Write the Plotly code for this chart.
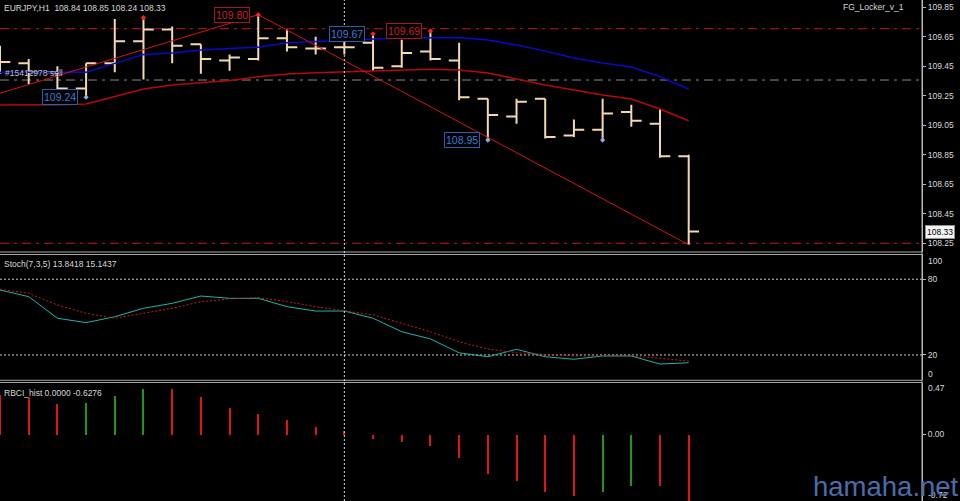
import plotly.graph_objects as go

# ---------------- data ----------------
bar_idx = list(range(25))
opens  = [109.55, 109.47, 109.41, 109.30, 109.47, 109.62, 109.70, 109.60, 109.49, 109.50,
          109.64, 109.57, 109.58, 109.61, 109.45, 109.55, 109.49, 109.23, 109.11, 109.23,
          108.98, 109.02, 109.14, 109.06, 108.84]
highs  = [109.59, 109.50, 109.45, 109.47, 109.77, 109.78, 109.72, 109.60, 109.53, 109.80,
          109.70, 109.65, 109.64, 109.67, 109.63, 109.69, 109.61, 109.23, 109.23, 109.23,
          109.09, 109.23, 109.19, 109.16, 108.85]
lows   = [109.40, 109.33, 109.29, 109.24, 109.41, 109.36, 109.47, 109.40, 109.42, 109.49,
          109.55, 109.53, 109.53, 109.42, 109.44, 109.49, 109.22, 108.95, 109.06, 108.96,
          108.97, 108.95, 109.04, 108.83, 108.24]
closes = [109.48, 109.41, 109.30, 109.47, 109.62, 109.70, 109.59, 109.50, 109.51, 109.64,
          109.58, 109.57, 109.58, 109.44, 109.54, 109.50, 109.24, 109.12, 109.21, 108.97,
          109.02, 109.13, 109.08, 108.84, 108.33]

ma_blue = [109.41, 109.41, 109.41, 109.41, 109.47, 109.53, 109.54, 109.56, 109.57, 109.58,
           109.61, 109.62, 109.63, 109.635, 109.64, 109.644, 109.645, 109.628, 109.594, 109.553,
           109.506, 109.472, 109.445, 109.38, 109.296]
ma_red = [109.188, 109.188, 109.19, 109.194, 109.244, 109.296, 109.323, 109.339, 109.354, 109.38,
          109.398, 109.407, 109.413, 109.418, 109.42, 109.43, 109.425, 109.405, 109.364, 109.323,
          109.289, 109.255, 109.228, 109.16, 109.081]

zigzag_x = [-3, 9, 24]
zigzag_y = [109.09, 109.80, 108.24]

high_marks = [5, 9, 13, 15]
low_marks = [3, 17, 21]
red_labels = [9, 15]          # labelled highs (red box)
blue_high_labels = [13]       # labelled high (blue box)
blue_low_labels = [3, 17]     # labelled lows (blue box)

red_levels = [109.705, 108.25]
order_level = 109.357
order_text = "#15412978 sell"
cursor_bar = 12

price_ticks = [109.85, 109.65, 109.45, 109.25, 109.05, 108.85, 108.65, 108.45, 108.25]

stoch_main = [71.5, 66.2, 49.1, 45.6, 50.3, 57.0, 60.9, 66.7, 64.9, 64.9,
              58.3, 54.8, 54.8, 49.1, 38.4, 32.7, 21.7, 18.6, 24.5, 18.6,
              16.6, 19.2, 19.2, 12.8, 13.8418]
stoch_signal = [72.0, 68.9, 59.6, 53.0, 49.1, 53.0, 57.0, 62.2, 64.4, 65.4,
                62.2, 58.3, 54.8, 51.7, 45.1, 38.4, 30.5, 24.7, 21.8, 20.5,
                19.2, 19.2, 19.2, 17.4, 15.1437]
stoch_levels = [80, 20]

rbci = [0.367, 0.336, 0.284, 0.293, 0.352, 0.417, 0.417, 0.343, 0.25, 0.19,
        0.13, 0.068, 0.037, -0.04, -0.071, -0.111, -0.219, -0.364, -0.435, -0.534,
        -0.571, -0.534, -0.479, -0.479, -0.6276]
rbci_up = [0, 0, 0, 1, 1, 1, 0, 0, 0, 0,
           0, 0, 0, 0, 0, 0, 0, 0, 0, 0,
           0, 1, 1, 0, 0]

# ---------------- style ----------------
W, H = 960, 501
PLOT_W = 922
FONT = "Liberation Sans, Arial, sans-serif"
BAR = "#F2D9B0"
TXT = "#D8D8D8"
AXC = "#B8B8B8"
RED_LBL = "#C82020"
BLUE_LBL = "#3C7BD6"

def py(px):
    return 1 - px / H

fig = go.Figure()

fig.add_trace(go.Ohlc(
    x=bar_idx, open=opens, high=highs, low=lows, close=closes,
    increasing=dict(line=dict(color=BAR, width=2)),
    decreasing=dict(line=dict(color=BAR, width=2)),
    tickwidth=0.36, hoverinfo="skip", showlegend=False))

fig.add_trace(go.Scatter(x=bar_idx, y=ma_blue, mode="lines",
                         line=dict(color="#0A0AC8", width=1.5), hoverinfo="skip"))
fig.add_trace(go.Scatter(x=bar_idx, y=ma_red, mode="lines",
                         line=dict(color="#B40A0A", width=1.5), hoverinfo="skip"))
fig.add_trace(go.Scatter(x=zigzag_x, y=zigzag_y, mode="lines",
                         line=dict(color="#D41414", width=1), hoverinfo="skip"))
fig.add_trace(go.Scatter(x=high_marks, y=[highs[i] for i in high_marks], mode="markers",
                         marker=dict(color="#FF2020", size=4, symbol="diamond"), hoverinfo="skip"))
fig.add_trace(go.Scatter(x=low_marks, y=[lows[i] for i in low_marks], mode="markers",
                         marker=dict(color="#7FB0F0", size=4, symbol="diamond"), hoverinfo="skip"))

# stochastic
fig.add_trace(go.Scatter(x=bar_idx, y=stoch_main, mode="lines", yaxis="y2",
                         line=dict(color="#20B2AA", width=1), hoverinfo="skip"))
fig.add_trace(go.Scatter(x=bar_idx, y=stoch_signal, mode="lines", yaxis="y2",
                         line=dict(color="#C81E1E", width=1, dash="2px,2px"), hoverinfo="skip"))

# RBCI histogram
fig.add_trace(go.Bar(x=bar_idx, y=rbci, yaxis="y3", width=0.07,
                     marker=dict(color=["#1E961E" if u else "#E01414" for u in rbci_up],
                                 line=dict(width=0)), hoverinfo="skip"))

shapes = []
DASHDOT = "9px,5px,3px,5px"
for lv in red_levels:
    shapes.append(dict(type="line", xref="paper", x0=0, x1=1, yref="y", y0=lv, y1=lv,
                       line=dict(color="#C81414", width=1, dash=DASHDOT), layer="below"))
shapes.append(dict(type="line", xref="paper", x0=0, x1=1, yref="y", y0=order_level, y1=order_level,
                   line=dict(color="#8C8C8C", width=1, dash=DASHDOT), layer="below"))
for lv in stoch_levels:
    shapes.append(dict(type="line", xref="paper", x0=0, x1=1, yref="y2", y0=lv, y1=lv,
                       line=dict(color="#C8C8C8", width=1, dash="2px,2px"), layer="below"))
# panel separators
for p in [252, 254.5, 380.3, 382.5]:
    shapes.append(dict(type="line", xref="paper", x0=0, x1=1, yref="paper", y0=py(p), y1=py(p),
                       line=dict(color="#A8A8A8", width=1)))
# right axis line
shapes.append(dict(type="line", xref="paper", x0=1, x1=1, yref="paper", y0=0, y1=1,
                   line=dict(color=AXC, width=1)))
# crosshair
shapes.append(dict(type="line", xref="x", x0=cursor_bar, x1=cursor_bar, yref="paper", y0=0, y1=1,
                   line=dict(color="#D8D8D8", width=1, dash="2px,2px")))

ann = []
def label(i, val, color, border):
    ann.append(dict(x=i, y=val, xref="x", yref="y", text=f"{val:.2f}", showarrow=False,
                    xanchor="right", yanchor="middle", xshift=-8,
                    font=dict(family=FONT, size=10.5, color=color),
                    bordercolor=border, borderwidth=1, borderpad=1, bgcolor="black"))

for i in red_labels:
    label(i, highs[i], RED_LBL, "#A81818")
for i in blue_high_labels:
    label(i, highs[i], BLUE_LBL, "#2A5EB0")
for i in blue_low_labels:
    label(i, lows[i], BLUE_LBL, "#2A5EB0")

ann.append(dict(x=0, y=1, xref="paper", yref="paper", xanchor="left", yanchor="top",
                xshift=2, yshift=-1, showarrow=False,
                text="EURJPY,H1\u00a0\u00a0" + " ".join(f"{v:.2f}" for v in
                      [opens[-1], highs[-1], lows[-1], closes[-1]]),
                font=dict(family=FONT, size=8.5, color=TXT)))
ann.append(dict(x=906 / PLOT_W, y=py(7.5), xref="paper", yref="paper", xanchor="right",
                yanchor="middle", showarrow=False, text="FG_Locker_v_1",
                font=dict(family=FONT, size=8.5, color=TXT)))
ann.append(dict(x=0, y=order_level, xref="paper", yref="y", xanchor="left", yanchor="bottom",
                xshift=3, showarrow=False, text=order_text,
                font=dict(family=FONT, size=8.5, color="#BEBEBE")))
ann.append(dict(x=0, y=1, xref="paper", yref="y2 domain", xanchor="left", yanchor="top",
                xshift=2, yshift=-3, showarrow=False,
                text=f"Stoch(7,3,5) {stoch_main[-1]:.4f} {stoch_signal[-1]:.4f}",
                font=dict(family=FONT, size=8.5, color=TXT)))
ann.append(dict(x=0, y=1, xref="paper", yref="y3 domain", xanchor="left", yanchor="top",
                xshift=2, yshift=-3, showarrow=False,
                text=f"RBCI_hist 0.0000 {rbci[-1]:.4f}",
                font=dict(family=FONT, size=8.5, color=TXT)))
# price label on axis
ann.append(dict(x=1, y=closes[-1], xref="paper", yref="y", xanchor="left", yanchor="middle",
                xshift=3, showarrow=False, text=f"{closes[-1]:.2f}", bgcolor="#F4F4F4",
                bordercolor="#909090", borderwidth=1, borderpad=1,
                font=dict(family=FONT, size=8.5, color="#000000")))
# edge labels of sub-panels
for txt, ref, val, shift in [("100", "y2", 100, -6.5), ("0", "y2", 0, 6), ("0.47", "y3", 0.47, -5)]:
    ann.append(dict(x=1, y=val, xref="paper", yref=ref, xanchor="left", yanchor="middle",
                    xshift=4, yshift=shift, showarrow=False, text=txt,
                    font=dict(family=FONT, size=8.5, color=TXT)))
ann.append(dict(x=1, y=0, xref="paper", yref="paper", xanchor="left", yanchor="bottom",
                xshift=4, yshift=-1, showarrow=False, text="-0.72",
                font=dict(family=FONT, size=8.5, color=TXT)))
# watermark
ann.append(dict(x=811 / PLOT_W, y=py(486), xref="paper", yref="paper", xanchor="left",
                yanchor="middle", showarrow=False, text="hamaha.net",
                font=dict(family=FONT, size=27.5, color="#4A6DAA")))

yax_common = dict(side="right", showgrid=False, zeroline=False, showline=True, linecolor=AXC,
                  ticks="outside", ticklen=3, tickcolor=AXC, automargin=False, fixedrange=True,
                  tickfont=dict(family=FONT, size=8.5, color=TXT), anchor="x")

fig.update_layout(
    template="none", width=W, height=H, margin=dict(l=0, r=W - PLOT_W, t=0, b=0),
    paper_bgcolor="black", plot_bgcolor="black", showlegend=False,
    font=dict(family=FONT, size=8.5, color=TXT),
    xaxis=dict(range=[0, 32.13], visible=False, rangeslider=dict(visible=False),
               fixedrange=True),
    yaxis=dict(domain=[py(252), 1], range=[108.191, 109.8995],
               tickvals=price_ticks, ticktext=[f"{v:.2f}" for v in price_ticks], **yax_common),
    yaxis2=dict(domain=[py(380.2), py(254)], range=[0, 100],
                tickvals=stoch_levels, ticktext=[str(v) for v in stoch_levels], **yax_common),
    yaxis3=dict(domain=[0, py(382.5)], range=[-0.62037, 0.47685],
                tickvals=[0], ticktext=["0.00"], **yax_common),
    shapes=shapes, annotations=ann, bargap=0,
)

fig.write_html("out.html", config={"displayModeBar": False},
               post_script="document.body.style.margin='0';document.body.style.overflow='hidden';document.body.style.background='#000';")
